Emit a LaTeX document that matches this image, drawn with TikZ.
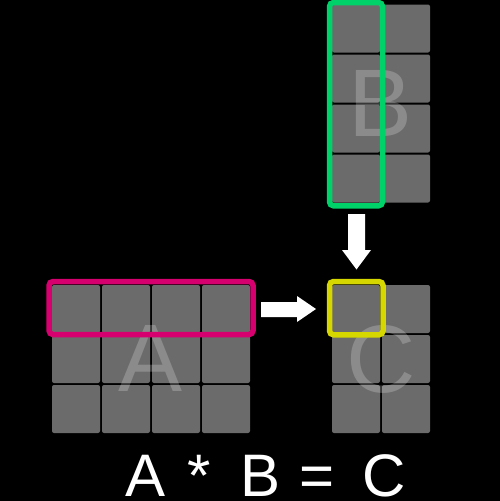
\documentclass[tikz,border=0pt]{standalone}
\usepackage{fontspec}
\setmainfont{Liberation Sans}
\definecolor{cellgray}{RGB}{107,107,107}
\definecolor{framepink}{RGB}{214,0,110}
\definecolor{framegreen}{RGB}{0,210,106}
\definecolor{frameyellow}{RGB}{214,214,0}
\tikzset{
  cell/.style={rectangle, fill=cellgray, minimum size=48pt, inner sep=0pt, rounded corners=2pt},
  bigletter/.style={text=white, text opacity=0.22, font=\fontsize{96}{96}\selectfont, inner sep=0pt},
  frame/.style={line width=5.5pt, rounded corners=4pt},
  blockarrow/.style={fill=white, draw=none},
  eqtext/.style={text=white, font=\fontsize{60}{60}\selectfont, inner sep=0pt, anchor=base west}
}
\begin{document}
\begin{tikzpicture}[x=1pt,y=-1pt]
\fill[black] (0,0) rectangle (500,501);
\useasboundingbox (0,0) rectangle (500,501);
% matrix A: 4 columns x 3 rows
\foreach \i in {0,...,3}{\foreach \j in {0,...,2}{
  \node[cell] (a-\i-\j) at ({51+25+50*\i},{284+25+50*\j}) {};
}}
% matrix B: 2 columns x 4 rows
\foreach \i in {0,...,1}{\foreach \j in {0,...,3}{
  \node[cell] (b-\i-\j) at ({331+25+50*\i},{3.5+25+50*\j}) {};
}}
% matrix C: 2 columns x 3 rows
\foreach \i in {0,...,1}{\foreach \j in {0,...,2}{
  \node[cell] (c-\i-\j) at ({331+25+50*\i},{284+25+50*\j}) {};
}}
% big letters
\node[bigletter] (la) at (151,358) {A};
\node[bigletter] (lb) at (381,103.5) {B};
\node[bigletter] (lc) at (381,359) {C};
% frames
\draw[frame, framepink] (49,281.5) rectangle (253,334.5);
\draw[frame, framegreen] (329.5,2.5) rectangle (382.5,205.8);
\draw[frame, frameyellow] (329.5,281.5) rectangle (383,334.8);
% block arrows
\fill[blockarrow] (261,302) -- (297,302) -- (297,296) -- (316,309) -- (297,322) -- (297,317) -- (261,317) -- cycle;
\fill[blockarrow] (348,214) -- (365,214) -- (365,250) -- (371,250) -- (356.5,269.5) -- (342,250) -- (348,250) -- cycle;
% equation
\node[eqtext] (eq) at (125,496) {A\hspace{22.7pt}*\hspace{29.6pt}B\hspace{19pt}=\hspace{27.5pt}C};
\end{tikzpicture}
\end{document}
